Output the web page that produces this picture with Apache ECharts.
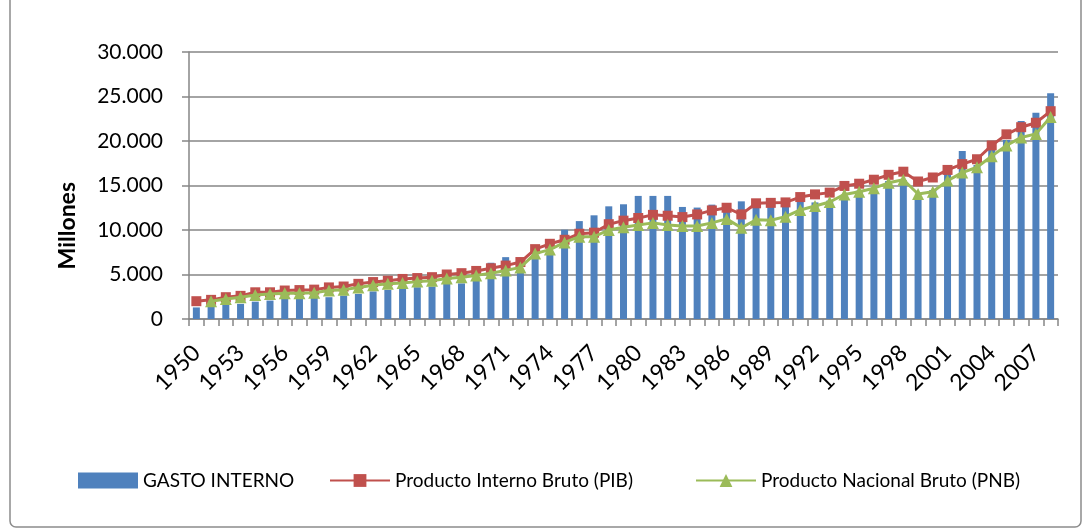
<!DOCTYPE html>
<html>
<head>
<meta charset="utf-8">
<script src="https://cdn.jsdelivr.net/npm/echarts@6/dist/echarts.min.js"></script>
<style>
html,body{margin:0;padding:0;background:#fff;}
#c{width:1092px;height:531px;}
</style>
</head>
<body>
<div id="c"></div>
<script>
const years = [];
for (let y = 1950; y <= 2008; y++) years.push(String(y));

const gastoInterno = [
  1300, 1350, 1580, 1700, 1950, 2070, 2250, 2250, 2370, 2450,
  2630, 2820, 3100, 3270, 3500, 3570, 3650, 3950, 4000, 4400,
  6320, 6950, 5500, 7000, 7300, 10030, 11000, 11650, 12660, 12890,
  13830, 13830, 13830, 12590, 12520, 12850, 12300, 13220, 12700, 13450,
  12600, 13500, 13100, 13300, 13800, 14400, 14500, 15500, 15600, 13600,
  14500, 16300, 18870, 17300, 19300, 20100, 22250, 23180, 25370
];

const pib = [
  2000, 2150, 2450, 2600, 3000, 3000, 3200, 3250, 3300, 3550,
  3650, 3950, 4150, 4300, 4500, 4600, 4700, 5000, 5150, 5400,
  5700, 6000, 6400, 7850, 8450, 8900, 9580, 9700, 10650, 11050,
  11350, 11700, 11600, 11450, 11750, 12200, 12500, 11750, 13000, 13050,
  13100, 13700, 14000, 14200, 14950, 15200, 15650, 16200, 16550, 15450,
  15900, 16750, 17400, 17950, 19500, 20750, 21550, 22050, 23350
];

const pnb = [
  null, 2000, 2250, 2450, 2700, 2800, 2900, 2900, 2950, 3200,
  3300, 3550, 3800, 3950, 4050, 4200, 4300, 4550, 4700, 4900,
  5150, 5450, 5800, 7350, 7800, 8600, 9250, 9250, 10000, 10300,
  10550, 10800, 10550, 10450, 10450, 10800, 11250, 10250, 11150, 11100,
  11500, 12250, 12700, 13150, 14000, 14300, 14700, 15300, 15650, 14050,
  14300, 15550, 16450, 17050, 18300, 19500, 20400, 20800, 22700
];

const seriesNames = ['GASTO INTERNO', 'Producto Interno Bruto (PIB)', 'Producto Nacional Bruto (PNB)'];
const yAxisTitle = 'Millones';
const yMin = 0, yMax = 30000, yStep = 5000;

const chart = echarts.init(document.getElementById('c'));
const FONT = 'Lato';
const legendText = { fontFamily: FONT, fontSize: 19, color: '#000' };
const legendBase = { top: 471, itemWidth: 60, itemHeight: 16, padding: 0, textStyle: legendText };
chart.setOption({
  animation: false,
  backgroundColor: '#ffffff',
  textStyle: { fontFamily: FONT },
  graphic: [{
    type: 'rect',
    shape: { x: 10, y: -10, width: 1071, height: 537, r: 6 },
    style: { fill: 'none', stroke: '#8c8c8c', lineWidth: 1.5 },
    silent: true, z: -10
  }, {
    type: 'text',
    left: 56, top: 182,
    rotation: Math.PI / 2,
    style: { text: yAxisTitle, font: 'bold 23px ' + FONT, fill: '#000' },
    silent: true
  }],
  grid: { left: 189, right: 34, top: 52, bottom: 212, containLabel: false },
  legend: [
    Object.assign({ left: 78, data: [{ name: seriesNames[0], icon: 'rect' }] }, legendBase),
    Object.assign({ left: 329, data: [{ name: seriesNames[1] }] }, legendBase),
    Object.assign({ left: 695, data: [{ name: seriesNames[2] }] }, legendBase)
  ],
  xAxis: {
    type: 'category',
    data: years,
    boundaryGap: true,
    axisLine: { lineStyle: { color: '#868686', width: 1.5 } },
    axisTick: { show: true, length: 7, interval: 0, lineStyle: { color: '#868686', width: 1.5 } },
    axisLabel: { interval: 2, rotate: 45, fontSize: 23, color: '#000', margin: 30, fontFamily: FONT }
  },
  yAxis: {
    type: 'value',
    min: yMin, max: yMax, interval: yStep,
    axisLine: { show: true, lineStyle: { color: '#868686', width: 1.5 } },
    axisTick: { show: true, length: 7, lineStyle: { color: '#868686', width: 1.5 } },
    splitLine: { show: true, lineStyle: { color: '#868686', width: 1.5 } },
    axisLabel: {
      fontSize: 21, color: '#000', margin: 26, fontFamily: FONT,
      formatter: v => String(v).replace(/\B(?=(\d{3})+(?!\d))/g, '.')
    }
  },
  series: [
    {
      name: seriesNames[0], type: 'bar', data: gastoInterno,
      barWidth: 7,
      itemStyle: { color: '#4F81BD' }, z: 1
    },
    {
      name: seriesNames[1], type: 'line', data: pib,
      symbol: 'rect', symbolSize: 10, showAllSymbol: true,
      lineStyle: { color: '#C0504D', width: 3 },
      itemStyle: { color: '#C0504D' }, z: 2
    },
    {
      name: seriesNames[2], type: 'line', data: pnb,
      symbol: 'triangle', symbolSize: 12, showAllSymbol: true,
      lineStyle: { color: '#9BBB59', width: 3 },
      itemStyle: { color: '#9BBB59' }, z: 3
    }
  ]
});
</script>
</body>
</html>
